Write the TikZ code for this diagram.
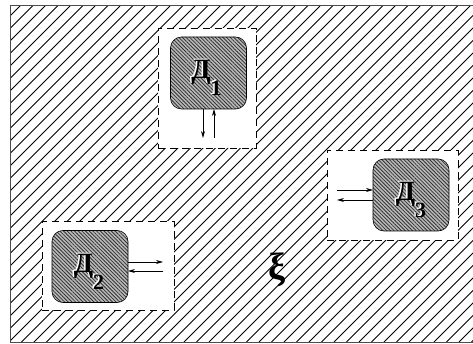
\documentclass[tikz,border=0pt]{standalone}
\usepackage{fontspec}
\setmainfont{Liberation Serif}
\usetikzlibrary{patterns.meta,arrows.meta}
\newcommand{\devlabel}[1]{Д\raisebox{-17pt}{\fontsize{22}{22}\selectfont #1}}
\begin{document}
\begin{tikzpicture}[x=1pt,y=-1pt,
  hatch/.style={line width=0.8pt,black},
  wbox/.style={draw=black,fill=white,dashed,dash pattern=on 7pt off 5pt,line width=0.9pt,inner sep=0pt,outer sep=0pt},
  sq/.style={draw=black,line width=0.6pt,rounded corners=11pt,minimum width=76pt,minimum height=72pt,inner sep=0pt,outer sep=0pt,
    preaction={fill=gray!55},pattern={Lines[angle=-45,distance=2.6pt,line width=0.8pt]},pattern color=black!80},
  arr/.style={line width=0.7pt,-{Stealth[length=7pt,width=4pt]}},
  lbl/.style={font=\fontsize{28}{28}\selectfont\bfseries,inner sep=0pt},
  lblsh/.style={font=\fontsize{28}{28}\selectfont\bfseries,inner sep=0pt,text=white}
]
\useasboundingbox (0,0) rectangle (473,344);
% background hatching
\begin{scope}
\clip (10,6) rectangle (473,342);
\foreach \i in {-316,-303.5,...,480} \draw[hatch] (\i,342) -- ++(336,-336);
\end{scope}
\draw[line width=1pt,gray!60!black] (10,6) rectangle (480,342);
% white dashed areas
\node[wbox,minimum width=98pt,minimum height=120pt] (b1) at (207,88) {};
\node[wbox,minimum width=131pt,minimum height=90pt] (b3) at (392.5,195) {};
\node[wbox,minimum width=132pt,minimum height=89pt] (b2) at (108,265.5) {};
% devices
\node[sq] (s1) at (208.5,73) {};
\node[sq] (s3) at (411,195) {};
\node[sq] (s2) at (90,266.5) {};
% labels
\node[lblsh] at (206.5-1.5,78-1) {\devlabel{1}};
\node[lbl] (l1) at (206.5,78) {\devlabel{1}};
\node[lblsh] at (411-1.5,200-1) {\devlabel{3}};
\node[lbl] (l3) at (411,200) {\devlabel{3}};
\node[lblsh] at (89-1.5,272-1) {\devlabel{2}};
\node[lbl] (l2) at (89,272) {\devlabel{2}};
% arrows
\coordinate (e1) at (203,138);
\coordinate (f1) at (214,138);
\draw[arr] (s1.south -| e1) -- (e1);
\draw[arr] (f1) -- (s1.south -| f1);
\coordinate (e3) at (337,190);
\coordinate (f3) at (337,200);
\draw[arr] (e3) -- (s3.west |- e3);
\draw[arr] (s3.west |- f3) -- (f3);
\coordinate (e2) at (163,262);
\coordinate (f2) at (163,271);
\draw[arr] (s2.east |- e2) -- (e2);
\draw[arr] (f2) -- (s2.east |- f2);
% xi
\node[font=\fontsize{38}{38}\selectfont\bfseries,inner sep=0pt] (xi) at (277,270) {ξ};
\end{tikzpicture}
\end{document}
